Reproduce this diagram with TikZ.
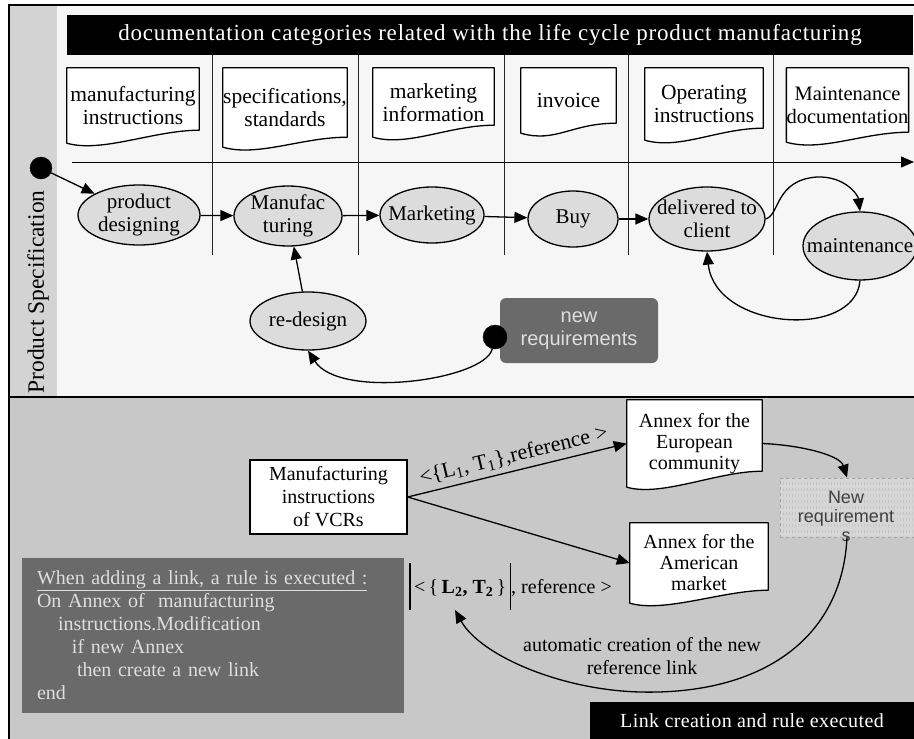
\documentclass[tikz,border=0pt]{standalone}
\usepackage{fontspec}
\setmainfont{Liberation Serif}
\setsansfont{Liberation Sans}
\usetikzlibrary{arrows.meta,shapes.geometric,calc,patterns}
\pgfdeclarelayer{back}
\pgfdeclarelayer{mid}
\pgfsetlayers{back,mid,main}

\definecolor{paper}{HTML}{F6F6F6}
\definecolor{stripgray}{HTML}{D3D3D3}
\definecolor{lowergray}{HTML}{C8C8C8}
\definecolor{ovalgray}{HTML}{DCDCDC}
\definecolor{panelgray}{HTML}{6A6A6A}
\definecolor{paneltext}{HTML}{DEDEDE}
\definecolor{hatchgray}{HTML}{D6D6D6}

% document symbol: straight top and sides, wavy bottom edge (#2 = rise of the right corner)
\newcommand\docoutline[2]{%
  \begin{pgfonlayer}{mid}
    \draw[docline] (#1.north west) -- (#1.north east)
      -- ($(#1.south east)+(0,-#2)$)
      .. controls +(-45,0) and +(35,10) .. (#1.south west) -- cycle;
  \end{pgfonlayer}}

\begin{document}
\begin{tikzpicture}[x=1pt,y=-1pt,
  every node/.style={inner sep=0pt, align=center, font=\fontsize{20}{23}\selectfont},
  oval/.style={ellipse, draw, line width=1.3pt, fill=ovalgray,
    label={[align=center, font=\fontsize{21}{23}\selectfont]center:#1}},
  docbox/.style={rectangle, font=\fontsize{21.5}{23}\selectfont},
  docline/.style={draw, line width=1.3pt, fill=white, line join=round},
  flow/.style={draw, line width=1.3pt, -{Triangle[length=13pt,width=11pt]}},
  colrule/.style={line width=0.9pt, black!85},
  darkpanel/.style={rectangle, fill=panelgray, text=paneltext},
  blackbar/.style={rectangle, fill=black, text=white},
  dot/.style={circle, fill=black, draw=black},
]
\useasboundingbox (0,0) rectangle (914,739);

% section backgrounds
\begin{pgfonlayer}{back}
  \fill[white] (0,0) rectangle (914,739);
  \fill[paper] (10,6) rectangle (914,397);
  \fill[stripgray] (10,6) rectangle (57,397);
  \fill[lowergray] (10,397) rectangle (914,739);
\end{pgfonlayer}
\draw[line width=1.2pt] (914,5) -- (9,5) -- (9,739);
\draw[line width=2pt] (9,397) -- (914,397);

% ---------- upper part: product life cycle ----------
\node[blackbar, minimum width=846, minimum height=40,
      font=\fontsize{23}{26}\selectfont\addfontfeature{LetterSpace=3.5}] (head) at (490,35)
  {documentation categories related with the life cycle product manufacturing};

\node[rotate=90, font=\fontsize{23.5}{26}\selectfont] (ps) at (38,292) {Product Specification};

% column separators and time axis
\foreach \cx in {212,358,504,628,773}
  \draw[colrule] (\cx,55) -- (\cx,255);
\coordinate (t0) at (72,162);
\coordinate (t1) at (914,162);
\draw[line width=1pt, -{Triangle[length=13pt,width=11pt]}] (t0) -- (t1);

% documentation categories
\node[docbox, minimum width=132, minimum height=75] (d1) at (133,105.5) {manufacturing\\instructions};
\node[docbox, minimum width=124, minimum height=79] (d2) at (285,107.5) {specifications,\\standards};
\node[docbox, minimum width=121, minimum height=69] (d3) at (433.5,102.5) {marketing\\information};
\node[docbox, minimum width=95, minimum height=65] (d4) at (568.5,100.5) {invoice};
\node[docbox, minimum width=118, minimum height=72] (d5) at (704,104) {Operating\\instructions};
\node[docbox, minimum width=121, minimum height=74, font=\fontsize{20.5}{23}\selectfont] (d6) at (847.5,105) {Maintenance\\documentation};
\docoutline{d1}{13}
\docoutline{d2}{10}
\docoutline{d3}{12}
\docoutline{d4}{10}
\docoutline{d5}{12}
\docoutline{d6}{10}

% life cycle states
\node[dot, minimum size=22] (sd) at (41,168) {};
\node[oval={product\\designing}, minimum width=122, minimum height=60] (pd) at (139,215) {};
\node[oval={Manufac\\turing}, minimum width=108, minimum height=60] (mf) at (288,216) {};
\node[oval={Marketing}, minimum width=104, minimum height=56] (mk) at (432,215) {};
\node[oval={Buy}, minimum width=90, minimum height=56] (buy) at (573,219) {};
\node[oval={delivered to\\client}, minimum width=116, minimum height=64] (dc) at (707,219) {};
\node[oval={maintenance}, minimum width=114, minimum height=68] (mt) at (860,246) {};
\node[oval={re-design}, minimum width=116, minimum height=58] (rd) at (308,321) {};
\node[rectangle, rounded corners=6pt, fill=panelgray, text=paneltext,
      font=\sffamily\fontsize{20}{23}\selectfont,
      minimum width=158, minimum height=65] (nr) at (579,330.5) {new\\requirements};
\node[dot, minimum size=24] (nd) at (495,337) {};

\draw[flow] (sd) -- (pd);
\draw[flow] (pd) -- (mf);
\draw[flow] (mf) -- (mk);
\draw[flow] (mk) -- (buy);
\draw[flow] (buy) -- (dc);
\draw[flow] (dc.east) .. controls (780,215) and (775,180) .. (817,177)
  .. controls (845,176) and (858,195) .. (mt.north);
\draw[flow] (mt.south) .. controls (855,340) and (715,330) .. (dc.south);
\draw[flow] (rd) -- (mf);
\draw[flow] (nd) .. controls (485,380) and (340,400) .. (rd.south);

% ---------- lower part: link creation ----------
\node[rectangle, draw, line width=1.3pt, fill=white,
      minimum width=157, minimum height=74] (mi) at (328.5,497)
  {Manufacturing\\instructions\\of VCRs};
\node[docbox, minimum width=135, minimum height=87,
      font=\fontsize{20}{21}\selectfont] (eu) at (694.5,443.5)
  {Annex for the\\European\\community};
\node[docbox, minimum width=138, minimum height=80,
      font=\fontsize{20}{21}\selectfont] (am) at (699,563)
  {Annex for the\\American\\market};
\docoutline{eu}{16}
\docoutline{am}{13}

\node[rectangle, draw=gray!70, dashed, line width=0.8pt,
      preaction={fill=hatchgray}, pattern=vertical lines, pattern color=gray!45,
      minimum width=134, minimum height=59] (nq) at (847,507.5) {};
\node[font=\sffamily\fontsize{18}{19}\selectfont, text=black!75] (nqt) at (846,516)
  {New\\requirement\\s};

\draw[flow] (mi.east) -- (eu.west)
  node[sloped, above=5pt, pos=0.5, font=\fontsize{22}{24}\selectfont]
  {<\{L\textsubscript{1}, T\textsubscript{1}\},reference >};
\draw[flow] (mi.east) -- (am.west);
\draw[flow] (eu.east) .. controls (800,445) and (840,455) .. (nq.north);

\node[anchor=base west] (l2) at (409,593)
  {\rule[-17pt]{1.6pt}{47pt}\,<\,\{\,\textbf{L\textsubscript{2}, T\textsubscript{2}}\,\}\,\rule[-17pt]{1.6pt}{47pt}, reference >};
\coordinate (l2tip) at (455,610);
\draw[flow] (nq.south) .. controls (842,640) and (760,695) .. (640,692)
  .. controls (560,690) and (480,655) .. (l2tip);

\node (auto) at (642,656) {automatic creation of the new\\reference link};

\node[darkpanel, minimum width=382, minimum height=155, text width=352,
      align=left] (rule) at (213,635.5)
  {\underline{When adding a link, a rule is executed :}\\
   On Annex of\ \ manufacturing\\
   \hspace*{21pt}instructions.Modification\\
   \hspace*{35pt}if new Annex\\
   \hspace*{40pt}then create a new link\\
   end};

\node[blackbar, minimum width=324, minimum height=37,
      font=\fontsize{20}{23}\selectfont\addfontfeature{LetterSpace=2}] (lc) at (752,720.5)
  {Link creation and rule executed};
\end{tikzpicture}
\end{document}
